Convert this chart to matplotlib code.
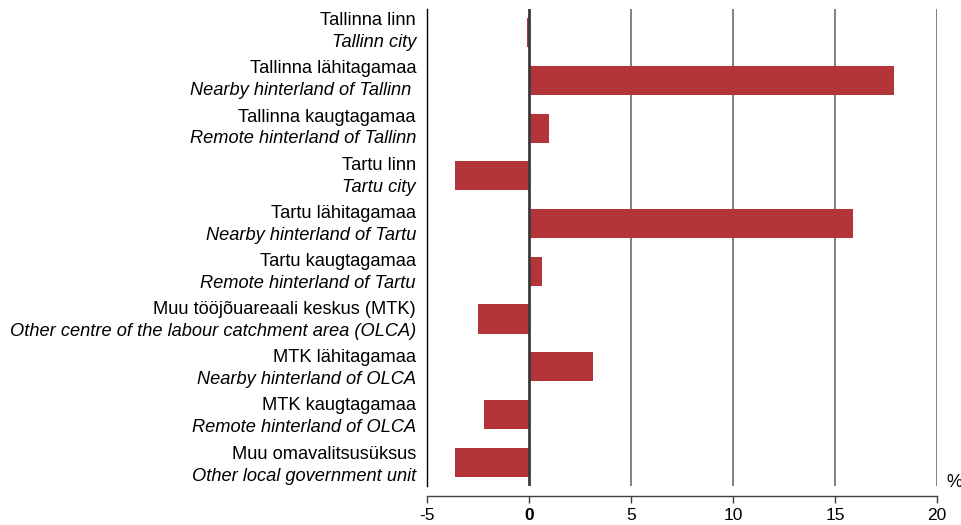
import matplotlib as mpl
mpl.use('Agg')
import matplotlib.pyplot as plt
import matplotlib.transforms as mtransforms

plt.rcParams['font.family'] = ['Liberation Sans', 'DejaVu Sans']

# Data
labels_et = ["Tallinna linn", "Tallinna lähitagamaa", "Tallinna kaugtagamaa",
             "Tartu linn", "Tartu lähitagamaa", "Tartu kaugtagamaa",
             "Muu tööjõuareaali keskus (MTK)", "MTK lähitagamaa",
             "MTK kaugtagamaa", "Muu omavalitsusüksus"]
labels_en = ["Tallinn city", "Nearby hinterland of Tallinn ",
             "Remote hinterland of Tallinn", "Tartu city",
             "Nearby hinterland of Tartu", "Remote hinterland of Tartu",
             "Other centre of the labour catchment area (OLCA)",
             "Nearby hinterland of OLCA", "Remote hinterland of OLCA",
             "Other local government unit"]
values = [-0.1, 17.9, 1.0, -3.65, 15.9, 0.65, -2.5, 3.15, -2.2, -3.65]
xticks = [-5, 0, 5, 10, 15, 20]

BAR_COLOR = '#b33539'

fig = plt.figure(figsize=(9.61, 5.25), dpi=100)
ax = fig.add_axes([0.4443, 0.0743, 0.9750 - 0.4443, 0.9829 - 0.0743])

ypos = list(range(len(values)))
ax.barh(ypos, values, height=0.61, color=BAR_COLOR, zorder=3)

ax.set_xlim(-5, 20)
ax.set_ylim(len(values) - 0.5, -0.5)

# vertical grid lines
for xv in xticks[2:]:
    ax.axvline(xv, color='#808080', lw=1.4, zorder=1)
ax.axvline(0, color='#3a3a3a', lw=2.0, zorder=4)

for side in ['top', 'right']:
    ax.spines[side].set_visible(False)
ax.spines['left'].set_color('black')
ax.spines['left'].set_linewidth(1.0)
ax.spines['bottom'].set_position(('outward', 7))
ax.spines['bottom'].set_color('#404040')
ax.spines['bottom'].set_linewidth(1.0)

ax.set_yticks([])
ax.set_xticks(xticks)
ax.set_xticklabels([str(t) for t in xticks], fontsize=12.5)
ax.tick_params(axis='x', direction='out', length=5, width=1, color='#404040', pad=4)
ax.get_xticklabels()[1].set_fontweight('bold')

# two-line category labels (label block drifts slightly relative to bars)
trans = mtransforms.blended_transform_factory(fig.transFigure, ax.transData)
for i in range(len(values)):
    shift = (-1 + 0.45 * i) * 0.72  # px -> points
    off_top = mtransforms.offset_copy(trans, fig=fig, x=0, y=8.0 - shift, units='points')
    off_bot = mtransforms.offset_copy(trans, fig=fig, x=0, y=-7.8 - shift, units='points')
    ax.text(416 / 961, i, labels_et[i], transform=off_top, ha='right', va='center',
            fontsize=13.15)
    ax.text(416 / 961, i, labels_en[i], transform=off_bot, ha='right', va='center',
            fontsize=13.15, style='italic')

ax.text(1.0 + 17 / 510, 0.0 + 3 / 477, '%', transform=ax.transAxes, ha='center',
        va='center', fontsize=13)

plt.savefig('out.png', dpi=100)
